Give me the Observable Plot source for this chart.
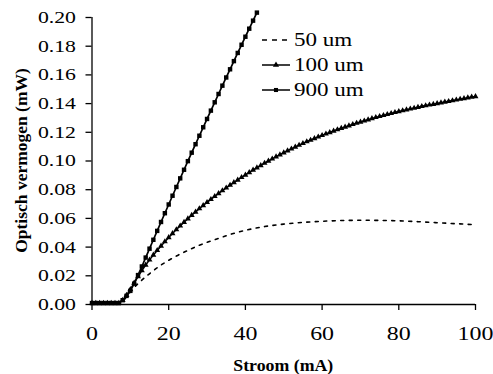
<!DOCTYPE html>
<html><head><meta charset="utf-8">
<script src="https://cdn.jsdelivr.net/npm/d3@7"></script>
<script src="https://cdn.jsdelivr.net/npm/@observablehq/plot@0.6"></script>
<style>
body{margin:0;background:#fff;}
#chart{width:493px;height:374px;position:relative;}
</style></head><body><div id="chart"></div>
<script>
// Stroom (mA) grid, 1 mA step
const current = [
  0,1,2,3,4,5,6,7,8,9,10,11,12,13,14,15,16,17,18,19,20,21,22,23,24,25,26,27,28,29,
  30,31,32,33,34,35,36,37,38,39,40,41,42,43,44,45,46,47,48,49,50,51,52,53,54,55,56,57,58,59,
  60,61,62,63,64,65,66,67,68,69,70,71,72,73,74,75,76,77,78,79,80,81,82,83,84,85,86,87,88,89,
  90,91,92,93,94,95,96,97,98,99,100];

// 50 um (dashed), sampled sparser
const current50 = [0,7,8,9,10,12,14,16,18,20,22,25,28,30,33,36,40,45,50,55,60,65,70,75,80,85,90,95,100];
const power50 = [0.0008,0.0008,0.002,0.0055,0.0088,0.0145,0.0193,0.0236,0.0275,0.0308,0.0338,0.0377,0.0413,0.0433,
  0.0461,0.0488,0.0517,0.0543,0.0560,0.0572,0.0580,0.0585,0.0587,0.0586,0.0583,0.0577,0.0570,0.0563,0.0556];

// 100 um (triangles), 0..100 mA
const power100 = [
  0.001,0.001,0.001,0.001,0.001,0.001,0.001,0.001,0.003,0.0065,
  0.0105,0.015,0.0195,0.0236,0.0275,0.0311,0.0345,0.0377,0.0408,0.0438,
  0.0467,0.0495,0.0522,0.0548,0.0573,0.0598,0.0622,0.0645,0.0668,0.0690,
  0.0712,0.0733,0.0754,0.0774,0.0794,0.0813,0.0832,0.0850,0.0868,0.0886,
  0.0903,0.0920,0.0937,0.0953,0.0969,0.0985,0.1000,0.1015,0.1030,0.1044,
  0.1058,0.1072,0.1085,0.1098,0.1111,0.1123,0.1135,0.1146,0.1157,0.1168,
  0.1179,0.1189,0.1199,0.1209,0.1219,0.1228,0.1237,0.1246,0.1255,0.1264,
  0.1272,0.1280,0.1288,0.1296,0.1304,0.1311,0.1318,0.1325,0.1332,0.1339,
  0.1345,0.1351,0.1357,0.1363,0.1369,0.1375,0.1381,0.1386,0.1391,0.1396,
  0.1401,0.1406,0.1411,0.1416,0.1421,0.1426,0.1431,0.1436,0.1441,0.1446,
  0.1450];

// 900 um (squares), 0..43 mA
const power900 = [
  0.001,0.001,0.001,0.001,0.001,0.001,0.001,0.001,0.003,0.006,
  0.0095,0.0145,0.0205,0.0265,0.0327,0.0389,0.0451,0.0513,0.0575,0.0636,
  0.0697,0.0758,0.0819,0.0879,0.0939,0.0999,0.1058,0.1117,0.1176,0.1235,
  0.1293,0.1351,0.1409,0.1467,0.1525,0.1582,0.1639,0.1696,0.1753,0.1810,
  0.1866,0.1922,0.1978,0.2034];

const seriesNames = ["50 um", "100 um", "900 um"];
const xTicks = [0, 20, 40, 60, 80, 100];
const yTicks = [0, 0.02, 0.04, 0.06, 0.08, 0.10, 0.12, 0.14, 0.16, 0.18, 0.20];
const xTitle = "Stroom (mA)";
const yTitle = "Optisch vermogen (mW)";

const rows50 = current50.map((x, i) => ({x, y: power50[i]}));
const rows100 = power100.map((y, i) => ({x: current[i], y}));
const rows900 = power900.map((y, i) => ({x: current[i], y}));

const serif = "'Liberation Serif','Times New Roman',Times,serif";

const plot = Plot.plot({
  width: 493, height: 374,
  marginLeft: 91.5, marginRight: 18, marginTop: 17, marginBottom: 70,
  style: {fontFamily: serif, fontSize: "17px", color: "black", background: "white", overflow: "visible"},
  x: {domain: [0, 100], label: null},
  y: {domain: [0, 0.2], label: null},
  marks: [
    Plot.axisX({ticks: xTicks, tickSize: 6, tickPadding: 17, fontSize: 18, label: null, stroke: "black", strokeWidth: 1.3}),
    Plot.axisY({ticks: yTicks, tickSize: 6, tickPadding: 10, fontSize: 17, label: null, tickFormat: d3.format(".2f"), stroke: "black", strokeWidth: 1.3}),
    Plot.ruleY([0], {stroke: "black", strokeWidth: 1.3}),
    Plot.ruleX([0], {stroke: "black", strokeWidth: 1.3}),
    Plot.line(rows50, {x: "x", y: "y", stroke: "black", strokeWidth: 1.6, strokeDasharray: "3,5.5", curve: "monotone-x"}),
    Plot.line(rows100, {x: "x", y: "y", stroke: "black", strokeWidth: 1.5}),
    Plot.dot(rows100, {x: "x", y: "y", symbol: "triangle", r: 2.2, fill: "black", stroke: "none"}),
    Plot.line(rows900, {x: "x", y: "y", stroke: "black", strokeWidth: 1.7}),
    Plot.dot(rows900, {x: "x", y: "y", symbol: "square", r: 2.5, fill: "black", stroke: "none"})
  ]
});

document.getElementById("chart").appendChild(plot);
const svg = d3.select(plot);

// horizontal stretch of tick labels, as in the reference
svg.selectAll('g[aria-label="x-axis tick label"] text').each(function() {
  const t = this.getAttribute("transform") || "";
  this.setAttribute("transform", t + " scale(1.33,1)");
});
svg.selectAll('g[aria-label="y-axis tick label"] text').each(function() {
  const t = this.getAttribute("transform") || "";
  this.setAttribute("transform", t + " scale(1.28,1)");
});

// axis titles
const xs = plot.scale("x"), ys = plot.scale("y");
const xMid = (xs.range[0] + xs.range[1]) / 2;
const yMid = (ys.range[0] + ys.range[1]) / 2;
svg.append("text")
  .attr("transform", `translate(${xMid},371) scale(1.08,1)`)
  .attr("text-anchor", "middle")
  .attr("font-family", serif).attr("font-weight", "bold").attr("font-size", 16.5)
  .attr("fill", "black")
  .text(xTitle);
svg.append("text")
  .attr("transform", `translate(27,${yMid}) rotate(-90)`)
  .attr("text-anchor", "middle")
  .attr("font-family", serif).attr("font-weight", "bold").attr("font-size", 17.5)
  .attr("fill", "black")
  .text(yTitle);

// legend
const legendRows = [
  {name: seriesNames[0], cy: 40, dash: "5,5", marker: null},
  {name: seriesNames[1], cy: 65, dash: null, marker: "triangle"},
  {name: seriesNames[2], cy: 90, dash: null, marker: "square"}
];
const lg = svg.append("g").attr("aria-label", "legend");
legendRows.forEach(r => {
  lg.append("line")
    .attr("x1", 262).attr("x2", 290).attr("y1", r.cy).attr("y2", r.cy)
    .attr("stroke", "black").attr("stroke-width", 1.5)
    .attr("stroke-dasharray", r.dash);
  if (r.marker) {
    const sym = r.marker === "triangle" ? d3.symbolTriangle : d3.symbolSquare;
    lg.append("path")
      .attr("d", d3.symbol(sym, Math.PI * 2.3 * 2.3)())
      .attr("transform", `translate(276,${r.cy})`)
      .attr("fill", "black");
  }
  lg.append("text")
    .attr("transform", `translate(294,${r.cy}) scale(1.28,1)`)
    .attr("dy", "0.35em")
    .attr("text-anchor", "start")
    .attr("font-family", serif).attr("font-size", 18)
    .attr("fill", "black")
    .text(r.name);
});
</script>
</body></html>
